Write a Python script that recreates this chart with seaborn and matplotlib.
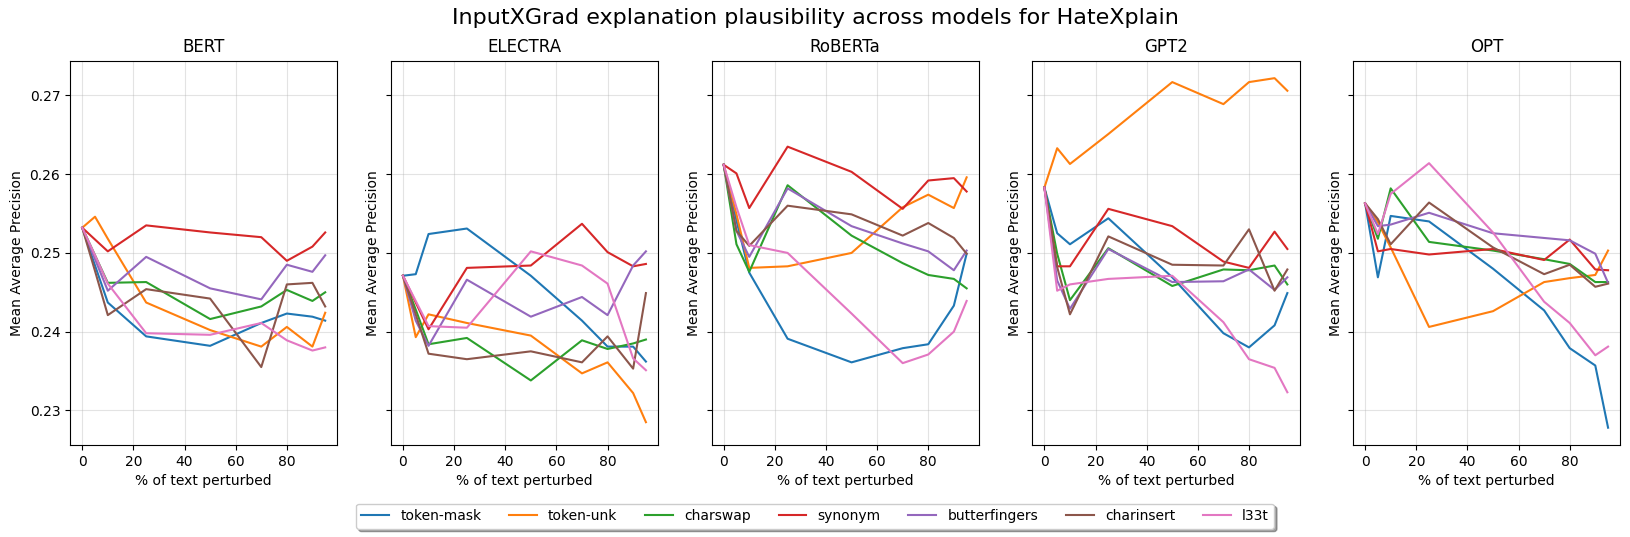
import numpy as np
import pandas as pd
import matplotlib
matplotlib.use("Agg")
import matplotlib.pyplot as plt
import seaborn as sns

# Perturbation levels (% of text perturbed)
pct = [0, 5, 10, 25, 50, 70, 80, 90, 95]

methods = ["token-mask", "token-unk", "charswap", "synonym",
           "butterfingers", "charinsert", "l33t"]
models = ["BERT", "ELECTRA", "RoBERTa", "GPT2", "OPT"]

# Mean average precision per model, one list per perturbation method
bert = {
    "token-mask":    [0.2532, 0.2484, 0.2437, 0.2394, 0.2382, 0.2411, 0.2423, 0.2419, 0.2414],
    "token-unk":     [0.2532, 0.2546, 0.2518, 0.2437, 0.2402, 0.2381, 0.2406, 0.2381, 0.2424],
    "charswap":      [0.2532, 0.2497, 0.2462, 0.2463, 0.2416, 0.2432, 0.2453, 0.2439, 0.2450],
    "synonym":       [0.2532, 0.2517, 0.2502, 0.2535, 0.2526, 0.2520, 0.2490, 0.2508, 0.2526],
    "butterfingers": [0.2532, 0.2492, 0.2452, 0.2495, 0.2455, 0.2441, 0.2485, 0.2476, 0.2497],
    "charinsert":    [0.2532, 0.2477, 0.2421, 0.2454, 0.2442, 0.2355, 0.2460, 0.2462, 0.2432],
    "l33t":          [0.2532, 0.2497, 0.2461, 0.2398, 0.2396, 0.2411, 0.2389, 0.2376, 0.2380],
}
electra = {
    "token-mask":    [0.2471, 0.2473, 0.2524, 0.2531, 0.2471, 0.2414, 0.2381, 0.2381, 0.2362],
    "token-unk":     [0.2471, 0.2393, 0.2422, 0.2411, 0.2395, 0.2347, 0.2361, 0.2322, 0.2285],
    "charswap":      [0.2471, 0.2428, 0.2384, 0.2392, 0.2338, 0.2389, 0.2378, 0.2385, 0.2390],
    "synonym":       [0.2471, 0.2437, 0.2403, 0.2481, 0.2484, 0.2537, 0.2501, 0.2483, 0.2486],
    "butterfingers": [0.2471, 0.2414, 0.2382, 0.2466, 0.2419, 0.2444, 0.2421, 0.2484, 0.2502],
    "charinsert":    [0.2471, 0.2422, 0.2372, 0.2365, 0.2375, 0.2361, 0.2394, 0.2353, 0.2449],
    "l33t":          [0.2471, 0.2439, 0.2407, 0.2405, 0.2502, 0.2484, 0.2461, 0.2366, 0.2351],
}
roberta = {
    "token-mask":    [0.2612, 0.2541, 0.2475, 0.2391, 0.2361, 0.2379, 0.2384, 0.2433, 0.2499],
    "token-unk":     [0.2612, 0.2549, 0.2481, 0.2483, 0.2500, 0.2558, 0.2574, 0.2557, 0.2596],
    "charswap":      [0.2612, 0.2511, 0.2476, 0.2586, 0.2522, 0.2487, 0.2472, 0.2467, 0.2455],
    "synonym":       [0.2612, 0.2601, 0.2557, 0.2635, 0.2603, 0.2556, 0.2592, 0.2595, 0.2578],
    "butterfingers": [0.2612, 0.2528, 0.2495, 0.2582, 0.2534, 0.2512, 0.2502, 0.2478, 0.2503],
    "charinsert":    [0.2612, 0.2528, 0.2509, 0.2560, 0.2549, 0.2522, 0.2538, 0.2519, 0.2499],
    "l33t":          [0.2612, 0.2558, 0.2510, 0.2500, 0.2423, 0.2360, 0.2371, 0.2400, 0.2439],
}
gpt2 = {
    "token-mask":    [0.2583, 0.2525, 0.2511, 0.2544, 0.2469, 0.2398, 0.2380, 0.2408, 0.2449],
    "token-unk":     [0.2583, 0.2633, 0.2613, 0.2651, 0.2717, 0.2689, 0.2717, 0.2722, 0.2706],
    "charswap":      [0.2583, 0.2499, 0.2440, 0.2506, 0.2458, 0.2479, 0.2478, 0.2484, 0.2460],
    "synonym":       [0.2583, 0.2483, 0.2483, 0.2556, 0.2534, 0.2489, 0.2481, 0.2527, 0.2505],
    "butterfingers": [0.2583, 0.2465, 0.2429, 0.2505, 0.2463, 0.2464, 0.2479, 0.2453, 0.2469],
    "charinsert":    [0.2583, 0.2482, 0.2422, 0.2521, 0.2485, 0.2484, 0.2530, 0.2452, 0.2479],
    "l33t":          [0.2583, 0.2452, 0.2460, 0.2467, 0.2471, 0.2412, 0.2365, 0.2354, 0.2323],
}
opt = {
    "token-mask":    [0.2563, 0.2469, 0.2547, 0.2540, 0.2480, 0.2427, 0.2379, 0.2357, 0.2278],
    "token-unk":     [0.2563, 0.2539, 0.2507, 0.2406, 0.2426, 0.2463, 0.2468, 0.2472, 0.2503],
    "charswap":      [0.2563, 0.2518, 0.2582, 0.2514, 0.2503, 0.2492, 0.2486, 0.2463, 0.2463],
    "synonym":       [0.2563, 0.2502, 0.2505, 0.2498, 0.2505, 0.2491, 0.2517, 0.2479, 0.2478],
    "butterfingers": [0.2563, 0.2534, 0.2536, 0.2551, 0.2525, 0.2519, 0.2516, 0.2499, 0.2462],
    "charinsert":    [0.2563, 0.2543, 0.2511, 0.2564, 0.2507, 0.2473, 0.2485, 0.2457, 0.2461],
    "l33t":          [0.2563, 0.2524, 0.2575, 0.2614, 0.2526, 0.2438, 0.2411, 0.2370, 0.2381],
}
results = {"BERT": bert, "ELECTRA": electra, "RoBERTa": roberta, "GPT2": gpt2, "OPT": opt}

# Long format table for seaborn
rows = []
for model in models:
    for method in methods:
        for p, v in zip(pct, results[model][method]):
            rows.append({"model": model, "method": method, "pct": p, "map": v})
df = pd.DataFrame(rows)

palette = sns.color_palette("tab10", len(methods))

fig, axes = plt.subplots(1, 5, figsize=(16.3, 5.37), dpi=100)
# share the y scale without label_outer hiding the inner y labels
for ax in axes[1:]:
    ax.sharey(axes[0])

for i, (ax, model) in enumerate(zip(axes, models)):
    sns.lineplot(data=df[df.model == model], x="pct", y="map", hue="method",
                 hue_order=methods, palette=palette, linewidth=1.5, ax=ax)
    ax.set_title(model, fontsize=12)
    ax.set_xlabel("% of text perturbed")
    ax.set_ylabel("Mean Average Precision")
    if i > 0:
        ax.tick_params(axis="y", labelleft=False)
    ax.grid(True, alpha=0.35)
    ax.get_legend().remove()

handles, labels = axes[0].get_legend_handles_labels()
fig.legend(handles, labels, loc="upper center", bbox_to_anchor=(0.5, 0.075),
           ncol=7, fancybox=True, shadow=True)

fig.suptitle("InputXGrad explanation plausibility across models for HateXplain",
             fontsize=16, y=0.985)
fig.subplots_adjust(left=0.043, right=0.994, top=0.887, bottom=0.171, wspace=0.2)
fig.savefig("out.png")
